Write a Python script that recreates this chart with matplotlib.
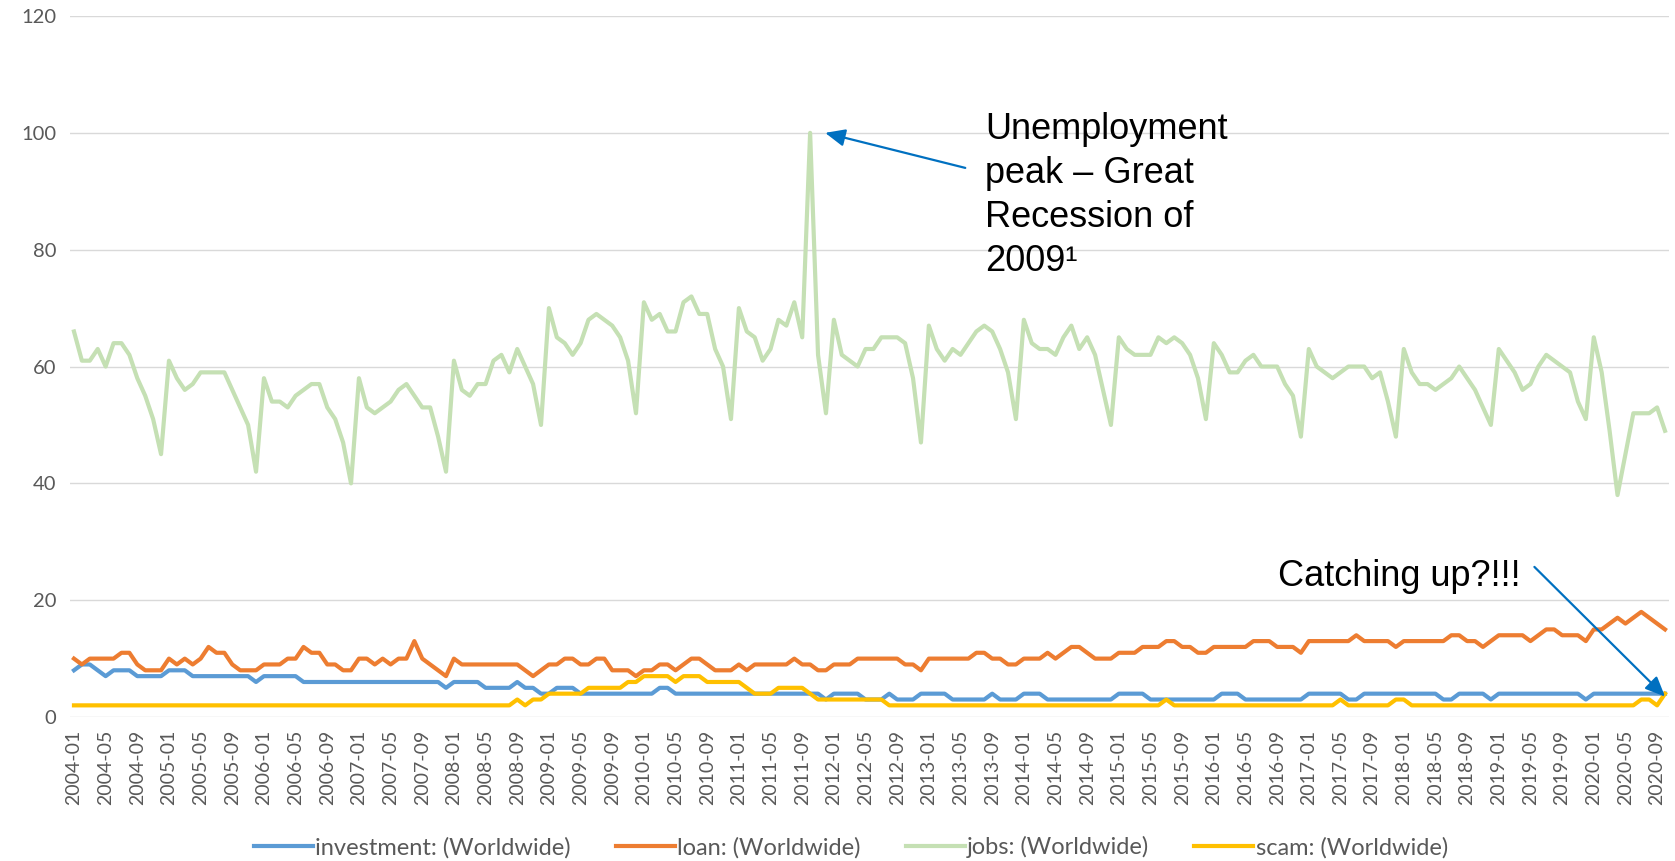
import pandas as pd
import matplotlib
matplotlib.use("Agg")
import matplotlib.pyplot as plt

# Google Trends style monthly interest, 2004-01 .. 2020-10
months = pd.date_range("2004-01-01", periods=202, freq="MS").strftime("%Y-%m").tolist()

investment = [
    8, 9, 9, 8, 7, 8, 8, 8, 7, 7, 7, 7,   # 2004
    8, 8, 8, 7, 7, 7, 7, 7, 7, 7, 7, 6,   # 2005
    7, 7, 7, 7, 7, 6, 6, 6, 6, 6, 6, 6,   # 2006
    6, 6, 6, 6, 6, 6, 6, 6, 6, 6, 6, 5,   # 2007
    6, 6, 6, 6, 5, 5, 5, 5, 6, 5, 5, 4,   # 2008
    4, 5, 5, 5, 4, 4, 4, 4, 4, 4, 4, 4,   # 2009
    4, 4, 5, 5, 4, 4, 4, 4, 4, 4, 4, 4,   # 2010
    4, 4, 4, 4, 4, 4, 4, 4, 4, 4, 4, 3,   # 2011
    4, 4, 4, 4, 3, 3, 3, 4, 3, 3, 3, 4,   # 2012
    4, 4, 4, 3, 3, 3, 3, 3, 4, 3, 3, 3,   # 2013
    4, 4, 4, 3, 3, 3, 3, 3, 3, 3, 3, 3,   # 2014
    4, 4, 4, 4, 3, 3, 3, 3, 3, 3, 3, 3,   # 2015
    3, 4, 4, 4, 3, 3, 3, 3, 3, 3, 3, 3,   # 2016
    4, 4, 4, 4, 4, 3, 3, 4, 4, 4, 4, 4,   # 2017
    4, 4, 4, 4, 4, 3, 3, 4, 4, 4, 4, 3,   # 2018
    4, 4, 4, 4, 4, 4, 4, 4, 4, 4, 4, 3,   # 2019
    4, 4, 4, 4, 4, 4, 4, 4, 4, 4,         # 2020
]

loan = [
    10, 9, 10, 10, 10, 10, 11, 11, 9, 8, 8, 8,
    10, 9, 10, 9, 10, 12, 11, 11, 9, 8, 8, 8,
    9, 9, 9, 10, 10, 12, 11, 11, 9, 9, 8, 8,
    10, 10, 9, 10, 9, 10, 10, 13, 10, 9, 8, 7,
    10, 9, 9, 9, 9, 9, 9, 9, 9, 8, 7, 8,
    9, 9, 10, 10, 9, 9, 10, 10, 8, 8, 8, 7,
    8, 8, 9, 9, 8, 9, 10, 10, 9, 8, 8, 8,
    9, 8, 9, 9, 9, 9, 9, 10, 9, 9, 8, 8,
    9, 9, 9, 10, 10, 10, 10, 10, 10, 9, 9, 8,
    10, 10, 10, 10, 10, 10, 11, 11, 10, 10, 9, 9,
    10, 10, 10, 11, 10, 11, 12, 12, 11, 10, 10, 10,
    11, 11, 11, 12, 12, 12, 13, 13, 12, 12, 11, 11,
    12, 12, 12, 12, 12, 13, 13, 13, 12, 12, 12, 11,
    13, 13, 13, 13, 13, 13, 14, 13, 13, 13, 13, 12,
    13, 13, 13, 13, 13, 13, 14, 14, 13, 13, 12, 13,
    14, 14, 14, 14, 13, 14, 15, 15, 14, 14, 14, 13,
    15, 15, 16, 17, 16, 17, 18, 17, 16, 15,
]

jobs = [
    66, 61, 61, 63, 60, 64, 64, 62, 58, 55, 51, 45,
    61, 58, 56, 57, 59, 59, 59, 59, 56, 53, 50, 42,
    58, 54, 54, 53, 55, 56, 57, 57, 53, 51, 47, 40,
    58, 53, 52, 53, 54, 56, 57, 55, 53, 53, 48, 42,
    61, 56, 55, 57, 57, 61, 62, 59, 63, 60, 57, 50,
    70, 65, 64, 62, 64, 68, 69, 68, 67, 65, 61, 52,
    71, 68, 69, 66, 66, 71, 72, 69, 69, 63, 60, 51,
    70, 66, 65, 61, 63, 68, 67, 71, 65, 100, 62, 52,
    68, 62, 61, 60, 63, 63, 65, 65, 65, 64, 58, 47,
    67, 63, 61, 63, 62, 64, 66, 67, 66, 63, 59, 51,
    68, 64, 63, 63, 62, 65, 67, 63, 65, 62, 56, 50,
    65, 63, 62, 62, 62, 65, 64, 65, 64, 62, 58, 51,
    64, 62, 59, 59, 61, 62, 60, 60, 60, 57, 55, 48,
    63, 60, 59, 58, 59, 60, 60, 60, 58, 59, 54, 48,
    63, 59, 57, 57, 56, 57, 58, 60, 58, 56, 53, 50,
    63, 61, 59, 56, 57, 60, 62, 61, 60, 59, 54, 51,
    65, 59, 49, 38, 45, 52, 52, 52, 53, 49,
]

scam = [
    2, 2, 2, 2, 2, 2, 2, 2, 2, 2, 2, 2,
    2, 2, 2, 2, 2, 2, 2, 2, 2, 2, 2, 2,
    2, 2, 2, 2, 2, 2, 2, 2, 2, 2, 2, 2,
    2, 2, 2, 2, 2, 2, 2, 2, 2, 2, 2, 2,
    2, 2, 2, 2, 2, 2, 2, 2, 3, 2, 3, 3,
    4, 4, 4, 4, 4, 5, 5, 5, 5, 5, 6, 6,
    7, 7, 7, 7, 6, 7, 7, 7, 6, 6, 6, 6,
    6, 5, 4, 4, 4, 5, 5, 5, 5, 4, 3, 3,
    3, 3, 3, 3, 3, 3, 3, 2, 2, 2, 2, 2,
    2, 2, 2, 2, 2, 2, 2, 2, 2, 2, 2, 2,
    2, 2, 2, 2, 2, 2, 2, 2, 2, 2, 2, 2,
    2, 2, 2, 2, 2, 2, 3, 2, 2, 2, 2, 2,
    2, 2, 2, 2, 2, 2, 2, 2, 2, 2, 2, 2,
    2, 2, 2, 2, 3, 2, 2, 2, 2, 2, 2, 3,
    3, 2, 2, 2, 2, 2, 2, 2, 2, 2, 2, 2,
    2, 2, 2, 2, 2, 2, 2, 2, 2, 2, 2, 2,
    2, 2, 2, 2, 2, 2, 3, 3, 2, 4,
]

series = [
    ("investment: (Worldwide)", investment, "#5B9BD5"),
    ("loan: (Worldwide)", loan, "#ED7D31"),
    ("jobs: (Worldwide)", jobs, "#C5E0B4"),
    ("scam: (Worldwide)", scam, "#FFC000"),
]

plt.rcParams["font.family"] = ["Lato", "DejaVu Sans"]

fig = plt.figure(figsize=(16.75, 8.61), dpi=100)
ax = fig.add_axes([0.0418, 0.1672, 0.9546, 0.8142])

x = range(len(months))
for name, vals, color in series:
    ax.plot(x, vals, color=color, lw=3, label=name, solid_joinstyle="round")

ax.set_xlim(-0.5, len(months) - 0.5)
ax.set_ylim(0, 120)
ax.set_yticks(range(0, 121, 20))
ax.grid(axis="y", color="#D9D9D9", lw=1)
ax.set_axisbelow(True)
for s in ax.spines.values():
    s.set_visible(False)

ticks = list(range(0, len(months), 4))
ax.set_xticks(ticks)
ax.set_xticklabels([months[i] for i in ticks], rotation=90)
ax.tick_params(axis="x", length=0, pad=9, labelsize=14, colors="#595959")
ax.tick_params(axis="y", length=0, pad=10, labelsize=14.5, colors="#595959")

# annotations
arrow = dict(arrowstyle="-|>,head_length=0.8,head_width=0.35", color="#0070C0",
             lw=1.6, mutation_scale=15, shrinkA=0, shrinkB=0)
ax.annotate("", xy=(94.9, 100.0), xytext=(112.6, 94.0), arrowprops=arrow)
ax.text(115.1, 103.6, "Unemployment\npeak \u2013 Great\nRecession of\n2009\u00b9",
        fontsize=26, family="Liberation Sans", va="top", ha="left",
        linespacing=1.34)

ax.annotate("", xy=(201.0, 3.5), xytext=(184.5, 25.7), arrowprops=arrow)
ax.text(152.1, 22.4, "Catching up?!!!", fontsize=26, family="Liberation Sans",
        va="baseline", ha="left")

fig.legend(loc="center", bbox_to_anchor=(0.508, 0.016), ncol=4, frameon=False,
           fontsize=17, handlelength=2.5, handletextpad=0.1, columnspacing=1.9,
           labelcolor="#595959")

fig.savefig("out.png", dpi=100)
